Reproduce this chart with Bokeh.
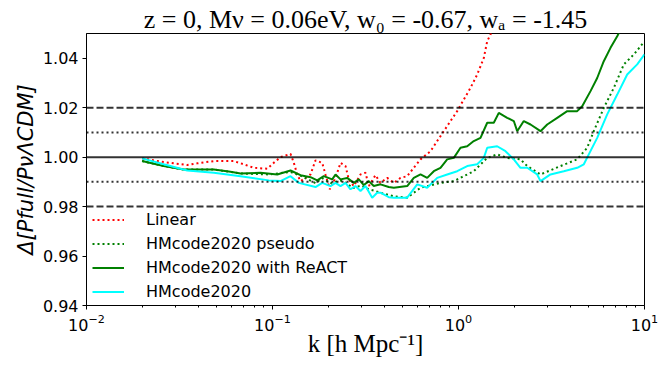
from bokeh.plotting import figure
from bokeh.models import (Span, Legend, LegendItem, Range1d,
                          PrintfTickFormatter, FixedTicker, LogTickFormatter)
from bokeh.embed import file_html
from bokeh.resources import INLINE

# ---------------- data ----------------
k_lin = [0.0199, 0.0260, 0.0348, 0.0394, 0.0484, 0.0619, 0.0701, 0.0793, 0.0937, 0.1016,
         0.1104, 0.1250, 0.1302, 0.1358, 0.1414, 0.1601, 0.1703, 0.1850, 0.1927, 0.2033,
         0.2182, 0.2321, 0.2469, 0.2571, 0.2735, 0.2972, 0.3162, 0.3294, 0.3579, 0.3807,
         0.4137, 0.4490, 0.4879, 0.5299, 0.5751, 0.6248, 0.7072, 0.7682, 0.8337, 0.9057,
         0.984, 1.068, 1.160, 1.260, 1.368, 1.427, 1.486, 1.60]
r_lin = [0.9995, 0.9980, 0.9968, 0.9975, 0.9984, 0.9984, 0.9971, 0.9957, 0.9953, 0.9977,
         1.0000, 1.0013, 0.9977, 0.9930, 0.9903, 0.9930, 0.9987, 0.9977, 0.9930, 0.9870,
         0.9916, 0.9977, 0.9964, 0.9910, 0.9883, 0.9930, 0.9937, 0.9883, 0.9927, 0.9896,
         0.9916, 0.9896, 0.9916, 0.9923, 0.9957, 0.9991, 1.0024, 1.0065, 1.0105, 1.0146,
         1.0186, 1.0233, 1.0280, 1.0334, 1.0401, 1.0469, 1.0496, 1.056]

k_pseudo = [0.0199, 0.0260, 0.0333, 0.0484, 0.0673, 0.0955, 0.1250, 0.1414, 0.1703, 0.1850,
            0.2050, 0.2321, 0.2500, 0.2700, 0.3000, 0.3300, 0.3500, 0.3807, 0.4490, 0.5299,
            0.6248, 0.8000, 0.9434, 1.208, 1.427, 1.614, 1.827, 2.154, 2.341, 2.760,
            3.535, 4.346, 4.920, 5.338, 6.041, 6.840, 7.740, 8.760, 9.840, 10.0]
r_pseudo = [0.9984, 0.9964, 0.9950, 0.9950, 0.9934, 0.9930, 0.9940, 0.9925, 0.9895, 0.9915,
            0.9895, 0.9905, 0.9895, 0.9875, 0.9885, 0.9870, 0.9865, 0.9856, 0.9842, 0.9836,
            0.9876, 0.9896, 0.9903, 0.9943, 0.9997, 1.0011, 0.9997, 0.9991, 0.9964, 0.9930,
            0.9964, 0.9991, 1.0038, 1.0105, 1.0199, 1.0280, 1.0375, 1.0415, 1.0462, 1.0466]

k_react = [0.0199, 0.0260, 0.0333, 0.0484, 0.0594, 0.0673, 0.0862, 0.1060, 0.1250, 0.1414,
           0.1601, 0.1739, 0.1887, 0.2094, 0.2182, 0.2321, 0.2521, 0.2735, 0.2911, 0.3097,
           0.3294, 0.3504, 0.3807, 0.4219, 0.4490, 0.5299, 0.5751, 0.6248, 0.6788, 0.7366,
           0.8000, 0.8694, 0.9434, 1.025, 1.114, 1.208, 1.313, 1.427, 1.548, 1.647,
           1.827, 1.983, 2.068, 2.244, 2.439, 2.760, 2.999, 3.394, 3.841, 4.346,
           4.624, 5.126, 5.568, 6.041, 6.565, 7.134, 7.6]
r_react = [0.9984, 0.9964, 0.9950, 0.9950, 0.9941, 0.9934, 0.9937, 0.9930, 0.9946, 0.9927,
           0.9919, 0.9906, 0.9923, 0.9910, 0.9930, 0.9910, 0.9916, 0.9896, 0.9910, 0.9887,
           0.9903, 0.9883, 0.9890, 0.9879, 0.9876, 0.9883, 0.9916, 0.9930, 0.9916, 0.9943,
           0.9957, 0.9991, 0.9997, 1.0038, 1.0044, 1.0065, 1.0078, 1.0139, 1.0139, 1.0179,
           1.0159, 1.0146, 1.0105, 1.0146, 1.0132, 1.0105, 1.0132, 1.0159, 1.0186, 1.0186,
           1.0206, 1.0267, 1.0320, 1.0388, 1.0442, 1.0489, 1.053]

k_hm = [0.0199, 0.0260, 0.0348, 0.0484, 0.0673, 0.0955, 0.1104, 0.1250, 0.1385, 0.1703,
        0.1850, 0.2050, 0.2182, 0.2321, 0.2469, 0.2626, 0.2793, 0.2972, 0.3162, 0.3436,
        0.3655, 0.3807, 0.4219, 0.4490, 0.5299, 0.5998, 0.6788, 0.7682, 0.8694, 0.9840,
        1.114, 1.260, 1.368, 1.427, 1.614, 1.789, 1.983, 2.154, 2.341, 2.649,
        2.760, 3.123, 3.682, 4.346, 4.718, 5.018, 5.568, 6.302, 7.134, 8.072,
        9.138, 10.0]
r_hm = [0.9995, 0.9971, 0.9946, 0.9937, 0.9923, 0.9906, 0.9903, 0.9923, 0.9896, 0.9879,
        0.9896, 0.9883, 0.9896, 0.9883, 0.9896, 0.9870, 0.9883, 0.9863, 0.9883, 0.9836,
        0.9856, 0.9856, 0.9838, 0.9836, 0.9836, 0.9890, 0.9876, 0.9916, 0.9930, 0.9943,
        0.9964, 0.9971, 0.9997, 1.0038, 1.0044, 1.0024, 0.9991, 0.9957, 0.9957, 0.9930,
        0.9903, 0.9930, 0.9943, 0.9957, 0.9971, 1.0011, 1.0078, 1.0173, 1.0253, 1.0334,
        1.0375, 1.0416]

ref_solid = [1.00]
ref_dashed = [0.98, 1.02]
ref_dotted = [0.99, 1.01]

x_ticks = [0.01, 0.1, 1, 10]
y_ticks = [0.94, 0.96, 0.98, 1.00, 1.02, 1.04]

labels = ["Linear", "HMcode2020 pseudo", "HMcode2020 with ReACT", "HMcode2020"]
title_text = "z = 0, Mν = 0.06eV, w₀ = -0.67, wₐ = -1.45"
x_label = "k [h Mpc⁻¹]"
y_label = "Δ[Pfull/PνΛCDM]"

# ---------------- figure ----------------
p = figure(frame_width=558, frame_height=272, x_axis_type="log",
           x_range=Range1d(0.01, 10), y_range=Range1d(0.94, 1.05),
           output_backend="svg", toolbar_location=None,
           min_border_left=86, min_border_right=14, min_border_top=33, min_border_bottom=62,
           background_fill_color="white", border_fill_color="white",
           title=title_text)

p.title.text_font = "Liberation Serif"
p.title.text_font_size = "26px"
p.title.text_font_style = "normal"
p.title.text_color = "black"
p.title.align = "center"
p.title.standoff = 0

p.xgrid.visible = False
p.ygrid.visible = False
p.outline_line_color = "black"
p.outline_line_width = 1
p.outline_line_alpha = 1

minor = [m * 10 ** e for e in (-2, -1, 0) for m in range(2, 10)]
p.xaxis.ticker = FixedTicker(ticks=x_ticks, minor_ticks=minor)
p.xaxis.formatter = LogTickFormatter()
p.yaxis.ticker = FixedTicker(ticks=y_ticks)
p.yaxis.formatter = PrintfTickFormatter(format="%.2f")

for ax in (p.xaxis[0], p.yaxis[0]):
    ax.axis_line_color = "black"
    ax.major_tick_line_color = "black"
    ax.minor_tick_line_color = "black"
    ax.major_tick_out = 4
    ax.major_tick_in = 0
    ax.minor_tick_out = 2
    ax.minor_tick_in = 0
    ax.major_label_text_font = "DejaVu Sans"
    ax.major_label_text_font_size = "16px"
    ax.major_label_text_color = "black"
    ax.major_label_standoff = 4
    ax.axis_label_text_color = "black"
p.yaxis.minor_tick_line_color = None

p.xaxis.axis_label = x_label
p.xaxis.axis_label_text_font = "Liberation Serif"
p.xaxis.axis_label_text_font_size = "25px"
p.xaxis.axis_label_text_font_style = "normal"
p.xaxis.axis_label_standoff = -4

p.yaxis.axis_label = y_label
p.yaxis.axis_label_text_font = "DejaVu Sans"
p.yaxis.axis_label_text_font_size = "21px"
p.yaxis.axis_label_text_font_style = "italic"
p.yaxis.axis_label_standoff = 2

r1 = p.line(k_lin, r_lin, line_color="red", line_width=2, line_dash="2 3")
r2 = p.line(k_pseudo, r_pseudo, line_color="green", line_width=2, line_dash="2 3")
r3 = p.line(k_react, r_react, line_color="green", line_width=2)
r4 = p.line(k_hm, r_hm, line_color="cyan", line_width=2)

for loc in ref_solid:
    p.add_layout(Span(location=loc, dimension="width", line_color="black",
                      line_alpha=0.8, line_width=2))
for loc in ref_dashed:
    p.add_layout(Span(location=loc, dimension="width", line_color="black",
                      line_alpha=0.8, line_width=2, line_dash="7 3"))
for loc in ref_dotted:
    p.add_layout(Span(location=loc, dimension="width", line_color="black",
                      line_alpha=0.8, line_width=2, line_dash="2 3"))

legend = Legend(items=[LegendItem(label=labels[0], renderers=[r1]),
                       LegendItem(label=labels[1], renderers=[r2]),
                       LegendItem(label=labels[2], renderers=[r3]),
                       LegendItem(label=labels[3], renderers=[r4])],
                location=(6, 4), padding=0, margin=0, spacing=5,
                glyph_width=32, glyph_height=17, label_height=17, label_standoff=22,
                label_text_font="DejaVu Sans", label_text_font_size="16px",
                label_text_font_style="normal", label_text_color="black",
                border_line_color=None, background_fill_alpha=0)
p.add_layout(legend)

open("out.html", "w").write(file_html(p, INLINE))
